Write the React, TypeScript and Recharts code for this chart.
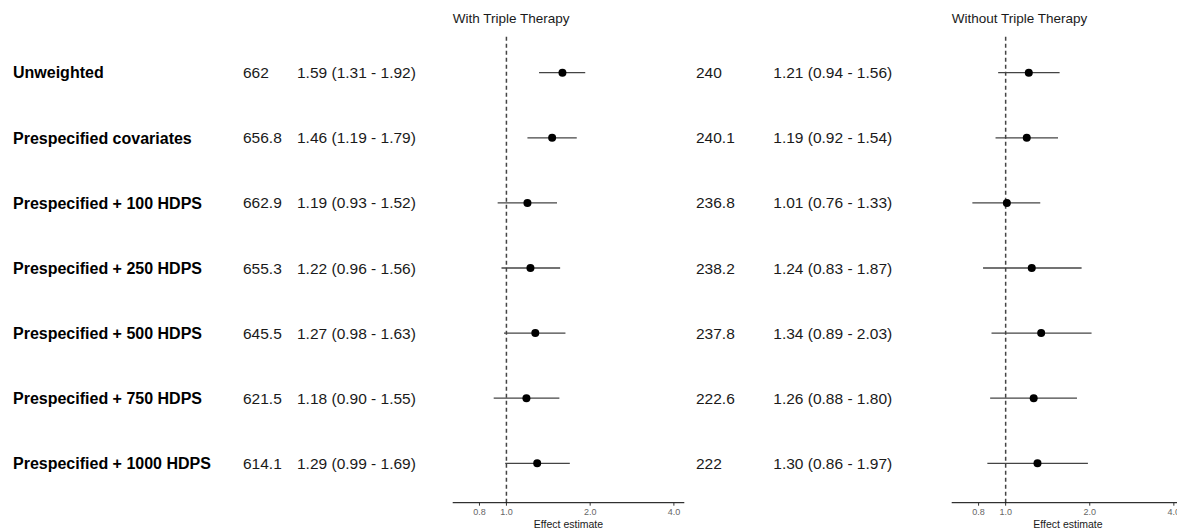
import React from "react";
import { ScatterChart, Scatter, XAxis, YAxis, ErrorBar, ReferenceLine } from "recharts";

const rowLabels = [
  "Unweighted",
  "Prespecified covariates",
  "Prespecified + 100 HDPS",
  "Prespecified + 250 HDPS",
  "Prespecified + 500 HDPS",
  "Prespecified + 750 HDPS",
  "Prespecified + 1000 HDPS",
];

const withN = [662, 656.8, 662.9, 655.3, 645.5, 621.5, 614.1];
const withEst = [1.59, 1.46, 1.19, 1.22, 1.27, 1.18, 1.29];
const withLo = [1.31, 1.19, 0.93, 0.96, 0.98, 0.9, 0.99];
const withHi = [1.92, 1.79, 1.52, 1.56, 1.63, 1.55, 1.69];

const withoutN = [240, 240.1, 236.8, 238.2, 237.8, 222.6, 222];
const withoutEst = [1.21, 1.19, 1.01, 1.24, 1.34, 1.26, 1.3];
const withoutLo = [0.94, 0.92, 0.76, 0.83, 0.89, 0.88, 0.86];
const withoutHi = [1.56, 1.54, 1.33, 1.87, 2.03, 1.8, 1.97];

const xTicks = [0.8, 1, 2, 4];

const FONT = '"Liberation Sans", Arial, Helvetica, sans-serif';

const buildRows = (n: number[], est: number[], lo: number[], hi: number[]) =>
  rowLabels.map((label, i) => ({
    row: i,
    label,
    n: n[i],
    est: est[i],
    lo: lo[i],
    hi: hi[i],
    err: [est[i] - lo[i], hi[i] - est[i]],
  }));

interface PanelProps {
  title: string;
  data: ReturnType<typeof buildRows>;
  left: number;
  width: number;
  plotLeft: number;
  showLabels: boolean;
  nX: number;
  estX: number;
}

const ForestPanel = ({ title, data, left, width, plotLeft, showLabels, nX, estX }: PanelProps) => {
  // dot plus the text columns of the same row
  const RowShape = (props: any) => {
    const { cx, cy, payload } = props;
    const ciText = `${payload.est.toFixed(2)} (${payload.lo.toFixed(2)} - ${payload.hi.toFixed(2)})`;
    return (
      <g>
        {showLabels && (
          <text x={13} y={cy} dy="0.36em" fontSize={16} fontWeight="bold" fill="#000" fontFamily={FONT}>
            {payload.label}
          </text>
        )}
        <text x={nX} y={cy} dy="0.36em" fontSize={15.5} fill="#1a1a1a" fontFamily={FONT}>
          {String(payload.n)}
        </text>
        <text x={estX} y={cy} dy="0.36em" fontSize={15.5} fill="#1a1a1a" fontFamily={FONT}>
          {ciText}
        </text>
        <circle cx={cx} cy={cy} r={4} fill="#000" />
      </g>
    );
  };

  return (
    <div style={{ position: "absolute", left, top: 0, width, height: 529 }}>
      <div
        style={{
          position: "absolute",
          left: plotLeft,
          top: 11,
          fontFamily: FONT,
          fontSize: 13.5,
          color: "#1a1a1a",
          whiteSpace: "nowrap",
        }}
      >
        {title}
      </div>
      <ScatterChart
        width={width}
        height={529}
        margin={{ top: 36, right: 5.7, bottom: 0, left: plotLeft }}
        style={{ fontFamily: FONT }}
      >
        <XAxis
          dataKey="est"
          type="number"
          scale="log"
          domain={[0.641, 4.36]}
          ticks={xTicks}
          tickFormatter={(v: number) => v.toFixed(1)}
          height={26.3}
          tickSize={3}
          tickMargin={3}
          tick={{ fontSize: 9, fill: "#666" }}
          tickLine={{ stroke: "#333" }}
          axisLine={{ stroke: "#000", strokeWidth: 1 }}
          label={{ value: "Effect estimate", position: "insideBottom", offset: 1, fontSize: 10.5, fill: "#1a1a1a" }}
        />
        <YAxis dataKey="row" type="number" domain={[-0.564, 6.605]} reversed hide />
        <ReferenceLine x={1} stroke="#444" strokeDasharray="4 3" strokeWidth={1.5} />
        <Scatter data={data} isAnimationActive={false} shape={RowShape}>
          <ErrorBar dataKey="err" direction="x" width={0} stroke="#444" strokeWidth={1.3} isAnimationActive={false} />
        </Scatter>
      </ScatterChart>
    </div>
  );
};

export default function App() {
  const withData = buildRows(withN, withEst, withLo, withHi);
  const withoutData = buildRows(withoutN, withoutEst, withoutLo, withoutHi);
  return (
    <div
      style={{
        position: "absolute",
        left: 0,
        top: 0,
        width: 1177,
        height: 529,
        overflow: "hidden",
        background: "#fff",
      }}
    >
      <ForestPanel
        title="With Triple Therapy"
        data={withData}
        left={0}
        width={690}
        plotLeft={452.7}
        showLabels
        nX={243}
        estX={297}
      />
      <ForestPanel
        title="Without Triple Therapy"
        data={withoutData}
        left={690}
        width={500}
        plotLeft={261.7}
        showLabels={false}
        nX={6}
        estX={83.3}
      />
    </div>
  );
}
